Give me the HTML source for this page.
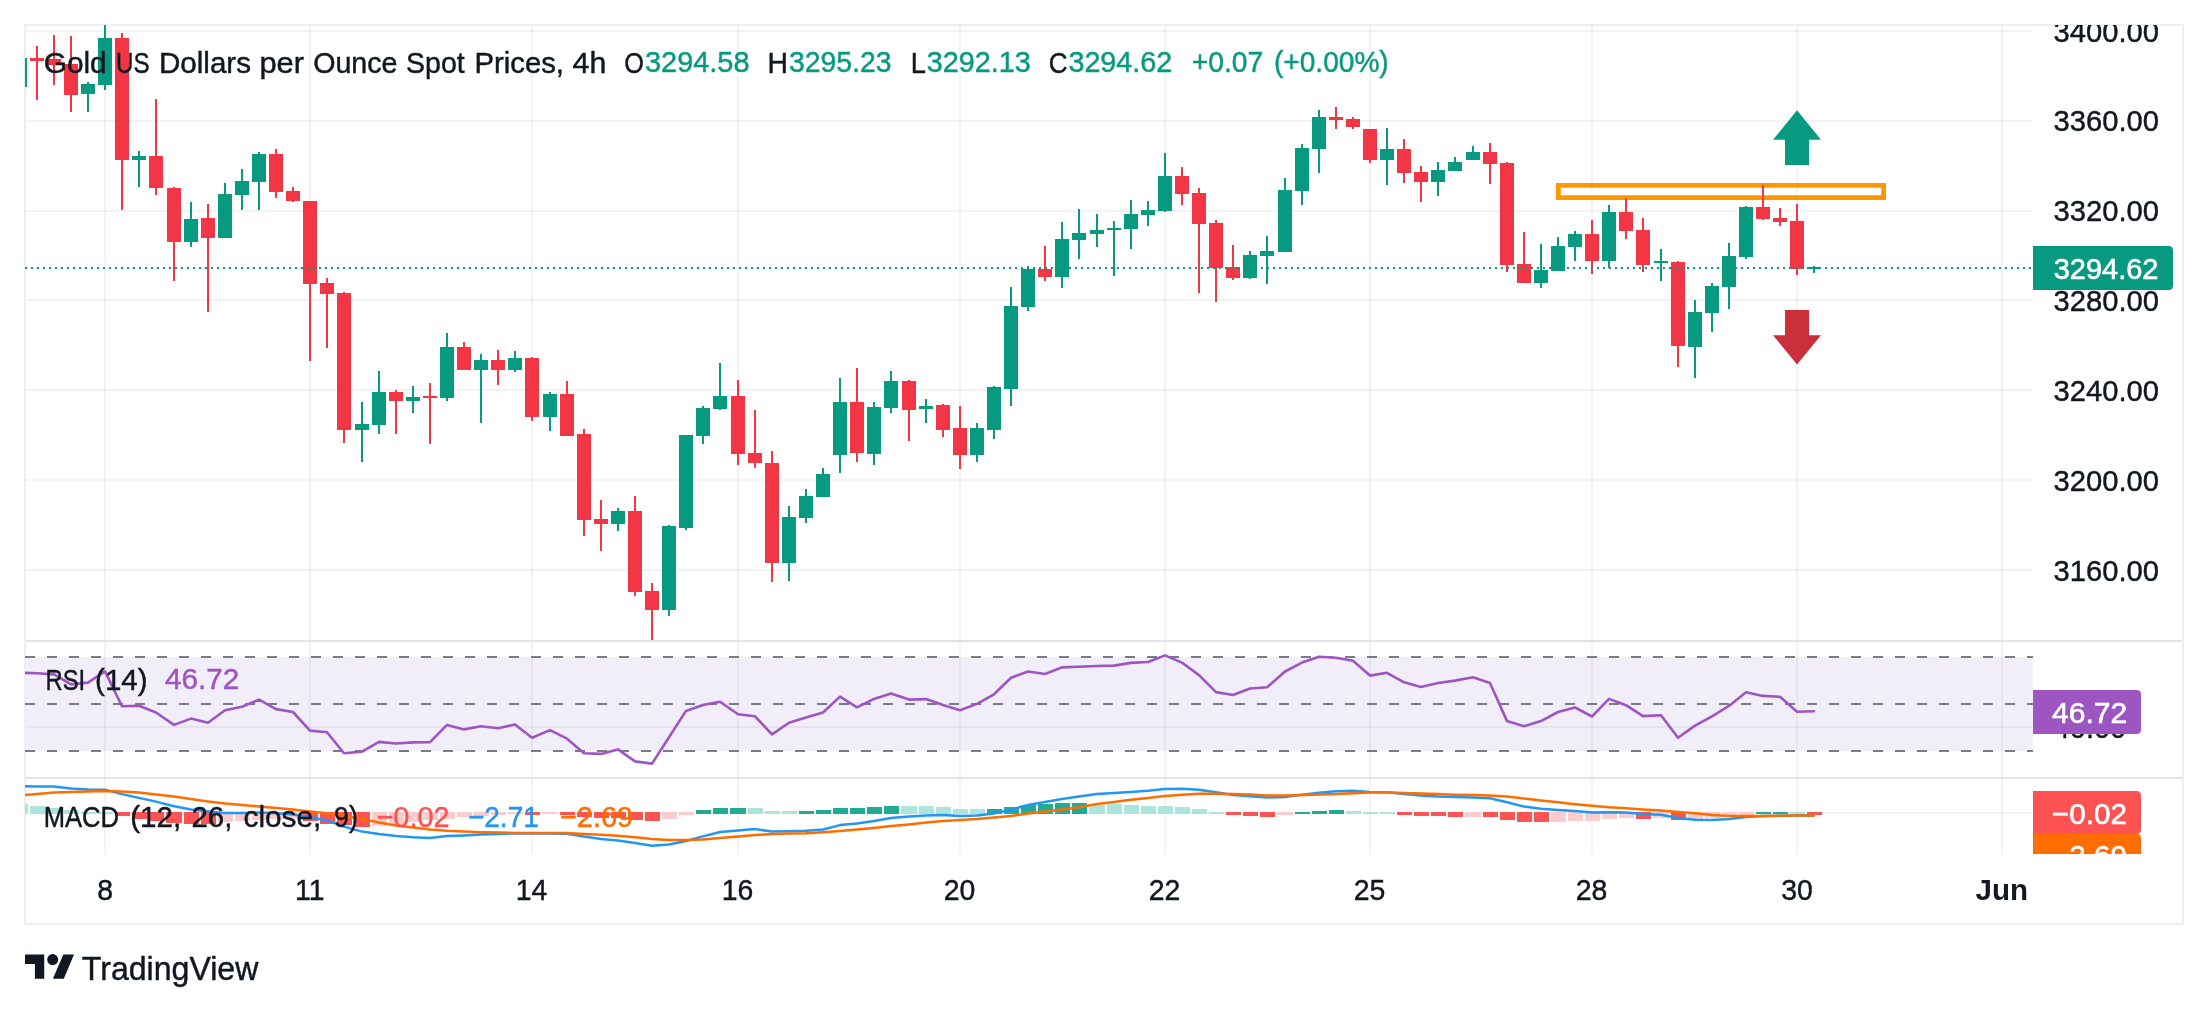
<!DOCTYPE html>
<html lang="en"><head><meta charset="utf-8"><title>Gold chart</title><style>html,body{margin:0;padding:0;background:#fff}body{width:2208px;height:1012px;overflow:hidden;font-family:"Liberation Sans",sans-serif}</style></head><body><svg width="2208" height="1012" viewBox="0 0 2208 1012" style="display:block;will-change:transform">
<defs>
<clipPath id="cpMain"><rect x="25" y="25" width="2008" height="615"/></clipPath>
<clipPath id="cpAxisMain"><rect x="2033" y="25" width="149" height="614"/></clipPath>
<clipPath id="cpRsi"><rect x="25" y="642" width="2008" height="135"/></clipPath>
<clipPath id="cpAxisRsi"><rect x="2033" y="642" width="149" height="135"/></clipPath>
<clipPath id="cpMacd"><rect x="25" y="779" width="2008" height="75"/></clipPath>
<clipPath id="cpAxisMacd"><rect x="2033" y="779" width="149" height="75"/></clipPath>
</defs>
<rect width="2208" height="1012" fill="#fff"/>
<g shape-rendering="crispEdges">
<rect x="26" y="657" width="2007" height="94" fill="#f2eef9"/>
<rect x="104" y="26" width="2" height="828" fill="#2a2e39" fill-opacity="0.06"/>
<rect x="309" y="26" width="2" height="828" fill="#2a2e39" fill-opacity="0.06"/>
<rect x="531" y="26" width="2" height="828" fill="#2a2e39" fill-opacity="0.06"/>
<rect x="737" y="26" width="2" height="828" fill="#2a2e39" fill-opacity="0.06"/>
<rect x="959" y="26" width="2" height="828" fill="#2a2e39" fill-opacity="0.06"/>
<rect x="1164" y="26" width="2" height="828" fill="#2a2e39" fill-opacity="0.06"/>
<rect x="1369" y="26" width="2" height="828" fill="#2a2e39" fill-opacity="0.06"/>
<rect x="1591" y="26" width="2" height="828" fill="#2a2e39" fill-opacity="0.06"/>
<rect x="1796" y="26" width="2" height="828" fill="#2a2e39" fill-opacity="0.06"/>
<rect x="2001" y="26" width="2" height="828" fill="#2a2e39" fill-opacity="0.06"/>
<rect x="26" y="30" width="2007" height="2" fill="#2a2e39" fill-opacity="0.06"/>
<rect x="26" y="120" width="2007" height="2" fill="#2a2e39" fill-opacity="0.06"/>
<rect x="26" y="210" width="2007" height="2" fill="#2a2e39" fill-opacity="0.06"/>
<rect x="26" y="299" width="2007" height="2" fill="#2a2e39" fill-opacity="0.06"/>
<rect x="26" y="389" width="2007" height="2" fill="#2a2e39" fill-opacity="0.06"/>
<rect x="26" y="479" width="2007" height="2" fill="#2a2e39" fill-opacity="0.06"/>
<rect x="26" y="569" width="2007" height="2" fill="#2a2e39" fill-opacity="0.06"/>
<rect x="26" y="726" width="2007" height="2" fill="#2a2e39" fill-opacity="0.06"/>
<rect x="26" y="812" width="2007" height="2" fill="#2a2e39" fill-opacity="0.06"/>
</g>
<g shape-rendering="crispEdges">
<rect x="26" y="640" width="2156" height="2" fill="#e0e3eb"/>
<rect x="26" y="777" width="2156" height="2" fill="#e0e3eb"/>
<path d="M24 24H2184V925H24Z M26 26V923H2182V26Z" fill="#edeef4" fill-rule="evenodd"/>
</g>
<g clip-path="url(#cpRsi)">
<line x1="25" y1="657" x2="2033" y2="657" stroke="#787b86" stroke-width="2" stroke-dasharray="10 12" shape-rendering="crispEdges"/>
<line x1="25" y1="704" x2="2033" y2="704" stroke="#787b86" stroke-width="2" stroke-dasharray="10 12" shape-rendering="crispEdges"/>
<line x1="25" y1="751" x2="2033" y2="751" stroke="#787b86" stroke-width="2" stroke-dasharray="10 12" shape-rendering="crispEdges"/>
<polyline points="20,672.8 37,673.2 54,674.4 71,684.4 88,682.6 105,671.4 122,706.3 139,705.7 156,712.5 174,724.9 191,718.6 208,722.7 225,710.2 242,706.8 259,699.6 276,709.1 293,712.0 310,730.6 327,732.2 344,753.2 362,751.6 379,741.9 396,743.5 413,742.4 430,742.1 447,724.9 464,729.4 481,726.3 498,728.3 515,724.4 532,737.8 550,730.1 567,738.7 584,753.2 601,753.9 618,749.4 635,761.4 652,763.6 669,737.3 686,710.9 703,705.0 720,701.8 738,714.3 755,716.3 772,734.4 789,722.7 806,717.4 823,712.5 840,696.6 857,707.3 874,698.9 891,693.4 909,699.6 926,699.1 943,705.0 960,710.2 977,703.9 994,694.3 1011,677.8 1028,671.5 1045,674.0 1062,667.4 1079,666.7 1097,666.0 1114,665.6 1131,662.9 1148,662.0 1165,655.4 1182,662.6 1199,675.1 1216,692.1 1233,695.0 1250,688.5 1267,687.3 1285,671.5 1302,662.6 1319,656.8 1336,657.7 1353,660.8 1370,675.6 1387,672.8 1404,682.3 1421,686.9 1438,683.0 1455,680.6 1473,677.3 1490,683.0 1507,721.1 1524,726.3 1541,721.1 1558,712.0 1575,707.5 1592,716.5 1609,698.9 1626,705.2 1643,716.1 1661,715.2 1678,737.8 1695,725.6 1712,716.3 1729,705.9 1746,692.3 1763,695.9 1780,696.8 1797,711.8 1814,711.3" fill="none" stroke="#9d55c2" stroke-width="2.6" stroke-linejoin="round" stroke-linecap="round"/>
</g>
<g clip-path="url(#cpMacd)">
<g shape-rendering="crispEdges">
<rect x="13" y="804" width="15" height="10" fill="#ace5dc"/>
<rect x="30" y="806" width="15" height="8" fill="#ace5dc"/>
<rect x="47" y="808" width="15" height="6" fill="#ace5dc"/>
<rect x="64" y="810" width="15" height="4" fill="#ace5dc"/>
<rect x="81" y="812" width="15" height="2" fill="#ace5dc"/>
<rect x="98" y="812" width="15" height="2" fill="#ace5dc"/>
<rect x="115" y="812" width="15" height="4" fill="#ff5252"/>
<rect x="132" y="812" width="15" height="7" fill="#ff5252"/>
<rect x="149" y="812" width="15" height="9" fill="#ff5252"/>
<rect x="166" y="812" width="16" height="11" fill="#ff5252"/>
<rect x="184" y="812" width="15" height="12" fill="#ff5252"/>
<rect x="201" y="812" width="15" height="12" fill="#ff5252"/>
<rect x="218" y="812" width="15" height="10" fill="#fccbcd"/>
<rect x="235" y="812" width="15" height="9" fill="#fccbcd"/>
<rect x="252" y="812" width="15" height="8" fill="#fccbcd"/>
<rect x="269" y="812" width="15" height="7" fill="#fccbcd"/>
<rect x="286" y="812" width="15" height="6" fill="#fccbcd"/>
<rect x="303" y="812" width="15" height="9" fill="#ff5252"/>
<rect x="320" y="812" width="15" height="12" fill="#ff5252"/>
<rect x="337" y="812" width="15" height="13" fill="#ff5252"/>
<rect x="354" y="812" width="16" height="15" fill="#ff5252"/>
<rect x="372" y="812" width="15" height="14" fill="#fccbcd"/>
<rect x="389" y="812" width="15" height="12" fill="#fccbcd"/>
<rect x="406" y="812" width="15" height="10" fill="#fccbcd"/>
<rect x="423" y="812" width="15" height="8" fill="#fccbcd"/>
<rect x="440" y="812" width="15" height="7" fill="#fccbcd"/>
<rect x="457" y="812" width="15" height="5" fill="#fccbcd"/>
<rect x="474" y="812" width="15" height="4" fill="#fccbcd"/>
<rect x="491" y="812" width="15" height="3" fill="#fccbcd"/>
<rect x="508" y="812" width="15" height="2" fill="#fccbcd"/>
<rect x="525" y="812" width="15" height="3" fill="#ff5252"/>
<rect x="542" y="812" width="16" height="2" fill="#fccbcd"/>
<rect x="560" y="812" width="15" height="3" fill="#ff5252"/>
<rect x="577" y="812" width="15" height="5" fill="#ff5252"/>
<rect x="594" y="812" width="15" height="6" fill="#ff5252"/>
<rect x="611" y="812" width="15" height="6" fill="#ff5252"/>
<rect x="628" y="812" width="15" height="8" fill="#ff5252"/>
<rect x="645" y="812" width="15" height="9" fill="#ff5252"/>
<rect x="662" y="812" width="15" height="7" fill="#fccbcd"/>
<rect x="679" y="812" width="15" height="3" fill="#fccbcd"/>
<rect x="696" y="810" width="15" height="4" fill="#22ab94"/>
<rect x="713" y="808" width="15" height="6" fill="#22ab94"/>
<rect x="730" y="808" width="16" height="6" fill="#22ab94"/>
<rect x="748" y="808" width="15" height="6" fill="#ace5dc"/>
<rect x="765" y="811" width="15" height="3" fill="#ace5dc"/>
<rect x="782" y="811" width="15" height="3" fill="#ace5dc"/>
<rect x="799" y="811" width="15" height="3" fill="#22ab94"/>
<rect x="816" y="810" width="15" height="4" fill="#22ab94"/>
<rect x="833" y="808" width="15" height="6" fill="#22ab94"/>
<rect x="850" y="808" width="15" height="6" fill="#22ab94"/>
<rect x="867" y="807" width="15" height="7" fill="#22ab94"/>
<rect x="884" y="806" width="15" height="8" fill="#22ab94"/>
<rect x="901" y="806" width="16" height="8" fill="#ace5dc"/>
<rect x="919" y="806" width="15" height="8" fill="#ace5dc"/>
<rect x="936" y="807" width="15" height="7" fill="#ace5dc"/>
<rect x="953" y="809" width="15" height="5" fill="#ace5dc"/>
<rect x="970" y="809" width="15" height="5" fill="#ace5dc"/>
<rect x="987" y="809" width="15" height="5" fill="#22ab94"/>
<rect x="1004" y="807" width="15" height="7" fill="#22ab94"/>
<rect x="1021" y="805" width="15" height="9" fill="#22ab94"/>
<rect x="1038" y="804" width="15" height="10" fill="#22ab94"/>
<rect x="1055" y="803" width="15" height="11" fill="#22ab94"/>
<rect x="1072" y="803" width="15" height="11" fill="#22ab94"/>
<rect x="1089" y="805" width="16" height="9" fill="#ace5dc"/>
<rect x="1107" y="804" width="15" height="10" fill="#ace5dc"/>
<rect x="1124" y="805" width="15" height="9" fill="#ace5dc"/>
<rect x="1141" y="806" width="15" height="8" fill="#ace5dc"/>
<rect x="1158" y="806" width="15" height="8" fill="#ace5dc"/>
<rect x="1175" y="807" width="15" height="7" fill="#ace5dc"/>
<rect x="1192" y="809" width="15" height="5" fill="#ace5dc"/>
<rect x="1209" y="812" width="15" height="2" fill="#ace5dc"/>
<rect x="1226" y="812" width="15" height="3" fill="#ff5252"/>
<rect x="1243" y="812" width="15" height="4" fill="#ff5252"/>
<rect x="1260" y="812" width="15" height="5" fill="#ff5252"/>
<rect x="1277" y="812" width="16" height="3" fill="#fccbcd"/>
<rect x="1295" y="812" width="15" height="2" fill="#22ab94"/>
<rect x="1312" y="811" width="15" height="3" fill="#22ab94"/>
<rect x="1329" y="810" width="15" height="4" fill="#22ab94"/>
<rect x="1346" y="811" width="15" height="3" fill="#ace5dc"/>
<rect x="1363" y="812" width="15" height="2" fill="#ace5dc"/>
<rect x="1380" y="812" width="15" height="2" fill="#ace5dc"/>
<rect x="1397" y="812" width="15" height="3" fill="#ff5252"/>
<rect x="1414" y="812" width="15" height="4" fill="#ff5252"/>
<rect x="1431" y="812" width="15" height="4" fill="#ff5252"/>
<rect x="1448" y="812" width="15" height="5" fill="#ff5252"/>
<rect x="1465" y="812" width="16" height="5" fill="#fccbcd"/>
<rect x="1483" y="812" width="15" height="5" fill="#ff5252"/>
<rect x="1500" y="812" width="15" height="8" fill="#ff5252"/>
<rect x="1517" y="812" width="15" height="10" fill="#ff5252"/>
<rect x="1534" y="812" width="15" height="10" fill="#ff5252"/>
<rect x="1551" y="812" width="15" height="10" fill="#fccbcd"/>
<rect x="1568" y="812" width="15" height="9" fill="#fccbcd"/>
<rect x="1585" y="812" width="15" height="9" fill="#fccbcd"/>
<rect x="1602" y="812" width="15" height="7" fill="#fccbcd"/>
<rect x="1619" y="812" width="15" height="6" fill="#fccbcd"/>
<rect x="1636" y="812" width="15" height="7" fill="#ff5252"/>
<rect x="1653" y="812" width="16" height="6" fill="#fccbcd"/>
<rect x="1671" y="812" width="15" height="8" fill="#ff5252"/>
<rect x="1688" y="812" width="15" height="7" fill="#fccbcd"/>
<rect x="1705" y="812" width="15" height="6" fill="#fccbcd"/>
<rect x="1722" y="812" width="15" height="4" fill="#fccbcd"/>
<rect x="1739" y="812" width="15" height="3" fill="#fccbcd"/>
<rect x="1756" y="812" width="15" height="2" fill="#22ab94"/>
<rect x="1773" y="812" width="15" height="2" fill="#22ab94"/>
<rect x="1790" y="812" width="15" height="2" fill="#ace5dc"/>
<rect x="1807" y="812" width="15" height="3" fill="#ff5252"/>
</g>
<polyline points="20,786.25 37,786.40 54,786.60 71,788.50 88,789.50 105,789.75 122,794.10 139,797.90 156,801.60 174,806.25 191,809.50 208,811.60 225,812.90 242,812.90 259,812.60 276,813.25 293,814.50 310,817.25 327,820.40 344,826.60 362,831.60 379,834.10 396,836.00 413,837.25 430,837.90 447,836.00 464,835.40 481,834.50 498,834.10 515,833.25 532,833.50 550,833.40 567,833.75 584,836.60 601,838.90 618,840.40 635,843.10 652,845.75 669,844.50 686,841.00 703,836.40 720,832.00 738,830.40 755,829.10 772,831.60 789,831.25 806,830.70 823,829.50 840,825.10 857,823.50 874,821.00 891,818.10 909,816.60 926,815.60 943,815.10 960,816.00 977,815.50 994,813.50 1011,809.75 1028,805.00 1045,802.00 1062,798.90 1079,796.60 1097,794.10 1114,792.90 1131,791.90 1148,790.75 1165,789.10 1182,788.75 1199,789.75 1216,792.25 1233,795.00 1250,796.25 1267,797.50 1285,797.00 1302,794.75 1319,792.70 1336,791.25 1353,790.75 1370,791.90 1387,792.25 1404,793.90 1421,795.40 1438,796.40 1455,797.00 1473,797.60 1490,798.25 1507,802.25 1524,806.60 1541,808.75 1558,810.00 1575,810.90 1592,812.55 1609,812.25 1626,812.50 1643,814.10 1661,814.75 1678,817.90 1695,819.75 1712,820.00 1729,818.90 1746,817.00 1763,816.00 1780,815.75 1797,815.50 1814,815.60" fill="none" stroke="#2196f3" stroke-width="2.5" stroke-linejoin="round" stroke-linecap="round"/>
<polyline points="20,795.40 37,793.90 54,792.60 71,791.90 88,791.40 105,791.00 122,791.60 139,792.60 156,794.40 174,796.60 191,799.10 208,801.40 225,803.50 242,805.00 259,806.40 276,807.90 293,809.50 310,811.40 327,813.25 344,816.00 362,819.10 379,822.50 396,825.40 413,827.50 430,829.40 447,830.75 464,831.60 481,832.25 498,832.60 515,832.90 532,832.90 550,833.00 567,833.10 584,833.90 601,834.75 618,835.75 635,837.25 652,838.90 669,840.10 686,840.10 703,839.50 720,838.10 738,836.60 755,835.00 772,834.10 789,833.50 806,833.20 823,832.25 840,831.00 857,829.50 874,827.90 891,826.00 909,824.40 926,822.60 943,821.00 960,820.00 977,819.10 994,817.60 1011,816.00 1028,813.50 1045,811.40 1062,809.40 1079,807.25 1097,804.10 1114,801.90 1131,799.75 1148,797.90 1165,796.00 1182,794.75 1199,793.75 1216,793.75 1233,793.90 1250,794.50 1267,795.40 1285,795.60 1302,795.10 1319,794.50 1336,794.10 1353,793.25 1370,792.60 1387,792.50 1404,792.90 1421,793.50 1438,794.10 1455,794.75 1473,795.10 1490,795.60 1507,796.60 1524,798.50 1541,800.40 1558,802.25 1575,804.20 1592,805.80 1609,807.25 1626,808.25 1643,809.40 1661,810.40 1678,811.90 1695,813.25 1712,815.00 1729,816.00 1746,816.00 1763,816.00 1780,815.75 1797,815.50 1814,815.60" fill="none" stroke="#ff6d00" stroke-width="2.5" stroke-linejoin="round" stroke-linecap="round"/>
</g>
<g clip-path="url(#cpMain)">
<path d="M1556 183H1886V200H1556Z M1560.8 187.8V195.2H1881.2V187.8Z" fill="#ff9800" fill-rule="evenodd"/>
<path d="M1797 110.2L1821 139.8H1809V165H1785V139.8H1773Z" fill="#089981"/>
<path d="M1785 310H1809V335.2H1821L1797 364.4L1773 335.2H1785Z" fill="#cc2f3c"/>
<g shape-rendering="crispEdges">
<rect x="19" y="58" width="2" height="29" fill="#089981"/>
<rect x="13" y="58" width="14" height="29" fill="#089981"/>
<rect x="36" y="46" width="2" height="54" fill="#f23645"/>
<rect x="30" y="58" width="14" height="3" fill="#f23645"/>
<rect x="53" y="35" width="2" height="50" fill="#f23645"/>
<rect x="47" y="59" width="14" height="6" fill="#f23645"/>
<rect x="70" y="36" width="2" height="76" fill="#f23645"/>
<rect x="64" y="64" width="14" height="31" fill="#f23645"/>
<rect x="87" y="82" width="2" height="30" fill="#089981"/>
<rect x="81" y="84" width="14" height="10" fill="#089981"/>
<rect x="104" y="25" width="2" height="65" fill="#089981"/>
<rect x="98" y="38" width="14" height="47" fill="#089981"/>
<rect x="121" y="33" width="2" height="177" fill="#f23645"/>
<rect x="115" y="38" width="14" height="122" fill="#f23645"/>
<rect x="138" y="151" width="2" height="36" fill="#089981"/>
<rect x="132" y="156" width="14" height="4" fill="#089981"/>
<rect x="155" y="99" width="2" height="96" fill="#f23645"/>
<rect x="149" y="156" width="14" height="32" fill="#f23645"/>
<rect x="173" y="187" width="2" height="94" fill="#f23645"/>
<rect x="167" y="188" width="14" height="54" fill="#f23645"/>
<rect x="190" y="202" width="2" height="45" fill="#089981"/>
<rect x="184" y="219" width="14" height="23" fill="#089981"/>
<rect x="207" y="204" width="2" height="108" fill="#f23645"/>
<rect x="201" y="218" width="14" height="20" fill="#f23645"/>
<rect x="224" y="183" width="2" height="55" fill="#089981"/>
<rect x="218" y="194" width="14" height="44" fill="#089981"/>
<rect x="241" y="169" width="2" height="41" fill="#089981"/>
<rect x="235" y="181" width="14" height="14" fill="#089981"/>
<rect x="258" y="152" width="2" height="58" fill="#089981"/>
<rect x="252" y="154" width="14" height="28" fill="#089981"/>
<rect x="275" y="149" width="2" height="49" fill="#f23645"/>
<rect x="269" y="154" width="14" height="38" fill="#f23645"/>
<rect x="292" y="187" width="2" height="15" fill="#f23645"/>
<rect x="286" y="191" width="14" height="10" fill="#f23645"/>
<rect x="309" y="201" width="2" height="160" fill="#f23645"/>
<rect x="303" y="201" width="14" height="83" fill="#f23645"/>
<rect x="326" y="278" width="2" height="70" fill="#f23645"/>
<rect x="320" y="283" width="14" height="11" fill="#f23645"/>
<rect x="343" y="292" width="2" height="151" fill="#f23645"/>
<rect x="337" y="293" width="14" height="137" fill="#f23645"/>
<rect x="361" y="402" width="2" height="60" fill="#089981"/>
<rect x="355" y="424" width="14" height="6" fill="#089981"/>
<rect x="378" y="371" width="2" height="63" fill="#089981"/>
<rect x="372" y="392" width="14" height="33" fill="#089981"/>
<rect x="395" y="390" width="2" height="44" fill="#f23645"/>
<rect x="389" y="392" width="14" height="9" fill="#f23645"/>
<rect x="412" y="386" width="2" height="27" fill="#089981"/>
<rect x="406" y="397" width="14" height="4" fill="#089981"/>
<rect x="429" y="383" width="2" height="61" fill="#f23645"/>
<rect x="423" y="396" width="14" height="2" fill="#f23645"/>
<rect x="446" y="333" width="2" height="68" fill="#089981"/>
<rect x="440" y="347" width="14" height="51" fill="#089981"/>
<rect x="463" y="342" width="2" height="28" fill="#f23645"/>
<rect x="457" y="347" width="14" height="23" fill="#f23645"/>
<rect x="480" y="354" width="2" height="69" fill="#089981"/>
<rect x="474" y="360" width="14" height="10" fill="#089981"/>
<rect x="497" y="350" width="2" height="35" fill="#f23645"/>
<rect x="491" y="360" width="14" height="10" fill="#f23645"/>
<rect x="514" y="351" width="2" height="21" fill="#089981"/>
<rect x="508" y="358" width="14" height="12" fill="#089981"/>
<rect x="531" y="357" width="2" height="64" fill="#f23645"/>
<rect x="525" y="358" width="14" height="59" fill="#f23645"/>
<rect x="549" y="392" width="2" height="39" fill="#089981"/>
<rect x="543" y="394" width="14" height="23" fill="#089981"/>
<rect x="566" y="381" width="2" height="55" fill="#f23645"/>
<rect x="560" y="394" width="14" height="42" fill="#f23645"/>
<rect x="583" y="429" width="2" height="107" fill="#f23645"/>
<rect x="577" y="434" width="14" height="86" fill="#f23645"/>
<rect x="600" y="500" width="2" height="51" fill="#f23645"/>
<rect x="594" y="519" width="14" height="5" fill="#f23645"/>
<rect x="617" y="508" width="2" height="23" fill="#089981"/>
<rect x="611" y="511" width="14" height="13" fill="#089981"/>
<rect x="634" y="496" width="2" height="100" fill="#f23645"/>
<rect x="628" y="511" width="14" height="81" fill="#f23645"/>
<rect x="651" y="583" width="2" height="57" fill="#f23645"/>
<rect x="645" y="591" width="14" height="19" fill="#f23645"/>
<rect x="668" y="525" width="2" height="91" fill="#089981"/>
<rect x="662" y="526" width="14" height="84" fill="#089981"/>
<rect x="685" y="435" width="2" height="95" fill="#089981"/>
<rect x="679" y="435" width="14" height="93" fill="#089981"/>
<rect x="702" y="406" width="2" height="38" fill="#089981"/>
<rect x="696" y="408" width="14" height="28" fill="#089981"/>
<rect x="719" y="363" width="2" height="47" fill="#089981"/>
<rect x="713" y="396" width="14" height="13" fill="#089981"/>
<rect x="737" y="380" width="2" height="85" fill="#f23645"/>
<rect x="731" y="396" width="14" height="58" fill="#f23645"/>
<rect x="754" y="410" width="2" height="58" fill="#f23645"/>
<rect x="748" y="453" width="14" height="10" fill="#f23645"/>
<rect x="771" y="451" width="2" height="131" fill="#f23645"/>
<rect x="765" y="463" width="14" height="100" fill="#f23645"/>
<rect x="788" y="506" width="2" height="75" fill="#089981"/>
<rect x="782" y="517" width="14" height="46" fill="#089981"/>
<rect x="805" y="489" width="2" height="34" fill="#089981"/>
<rect x="799" y="496" width="14" height="22" fill="#089981"/>
<rect x="822" y="468" width="2" height="29" fill="#089981"/>
<rect x="816" y="474" width="14" height="23" fill="#089981"/>
<rect x="839" y="378" width="2" height="95" fill="#089981"/>
<rect x="833" y="402" width="14" height="53" fill="#089981"/>
<rect x="856" y="368" width="2" height="94" fill="#f23645"/>
<rect x="850" y="402" width="14" height="51" fill="#f23645"/>
<rect x="873" y="402" width="2" height="63" fill="#089981"/>
<rect x="867" y="407" width="14" height="47" fill="#089981"/>
<rect x="890" y="371" width="2" height="42" fill="#089981"/>
<rect x="884" y="381" width="14" height="27" fill="#089981"/>
<rect x="908" y="380" width="2" height="61" fill="#f23645"/>
<rect x="902" y="381" width="14" height="29" fill="#f23645"/>
<rect x="925" y="399" width="2" height="24" fill="#089981"/>
<rect x="919" y="406" width="14" height="3" fill="#089981"/>
<rect x="942" y="404" width="2" height="33" fill="#f23645"/>
<rect x="936" y="405" width="14" height="25" fill="#f23645"/>
<rect x="959" y="406" width="2" height="63" fill="#f23645"/>
<rect x="953" y="428" width="14" height="27" fill="#f23645"/>
<rect x="976" y="423" width="2" height="39" fill="#089981"/>
<rect x="970" y="428" width="14" height="27" fill="#089981"/>
<rect x="993" y="386" width="2" height="53" fill="#089981"/>
<rect x="987" y="387" width="14" height="43" fill="#089981"/>
<rect x="1010" y="287" width="2" height="119" fill="#089981"/>
<rect x="1004" y="306" width="14" height="83" fill="#089981"/>
<rect x="1027" y="266" width="2" height="45" fill="#089981"/>
<rect x="1021" y="269" width="14" height="38" fill="#089981"/>
<rect x="1044" y="246" width="2" height="35" fill="#f23645"/>
<rect x="1038" y="269" width="14" height="8" fill="#f23645"/>
<rect x="1061" y="222" width="2" height="66" fill="#089981"/>
<rect x="1055" y="239" width="14" height="38" fill="#089981"/>
<rect x="1078" y="209" width="2" height="50" fill="#089981"/>
<rect x="1072" y="233" width="14" height="7" fill="#089981"/>
<rect x="1096" y="214" width="2" height="33" fill="#089981"/>
<rect x="1090" y="230" width="14" height="4" fill="#089981"/>
<rect x="1113" y="221" width="2" height="55" fill="#089981"/>
<rect x="1107" y="228" width="14" height="2" fill="#089981"/>
<rect x="1130" y="200" width="2" height="49" fill="#089981"/>
<rect x="1124" y="214" width="14" height="15" fill="#089981"/>
<rect x="1147" y="201" width="2" height="25" fill="#089981"/>
<rect x="1141" y="210" width="14" height="5" fill="#089981"/>
<rect x="1164" y="153" width="2" height="59" fill="#089981"/>
<rect x="1158" y="176" width="14" height="35" fill="#089981"/>
<rect x="1181" y="167" width="2" height="38" fill="#f23645"/>
<rect x="1175" y="176" width="14" height="18" fill="#f23645"/>
<rect x="1198" y="188" width="2" height="105" fill="#f23645"/>
<rect x="1192" y="193" width="14" height="31" fill="#f23645"/>
<rect x="1215" y="220" width="2" height="82" fill="#f23645"/>
<rect x="1209" y="223" width="14" height="45" fill="#f23645"/>
<rect x="1232" y="245" width="2" height="35" fill="#f23645"/>
<rect x="1226" y="267" width="14" height="11" fill="#f23645"/>
<rect x="1249" y="251" width="2" height="28" fill="#089981"/>
<rect x="1243" y="255" width="14" height="23" fill="#089981"/>
<rect x="1266" y="236" width="2" height="48" fill="#089981"/>
<rect x="1260" y="251" width="14" height="5" fill="#089981"/>
<rect x="1284" y="178" width="2" height="74" fill="#089981"/>
<rect x="1278" y="190" width="14" height="62" fill="#089981"/>
<rect x="1301" y="144" width="2" height="61" fill="#089981"/>
<rect x="1295" y="148" width="14" height="43" fill="#089981"/>
<rect x="1318" y="110" width="2" height="63" fill="#089981"/>
<rect x="1312" y="117" width="14" height="32" fill="#089981"/>
<rect x="1335" y="107" width="2" height="22" fill="#f23645"/>
<rect x="1329" y="117" width="14" height="3" fill="#f23645"/>
<rect x="1352" y="117" width="2" height="12" fill="#f23645"/>
<rect x="1346" y="119" width="14" height="8" fill="#f23645"/>
<rect x="1369" y="129" width="2" height="34" fill="#f23645"/>
<rect x="1363" y="129" width="14" height="31" fill="#f23645"/>
<rect x="1386" y="128" width="2" height="57" fill="#089981"/>
<rect x="1380" y="149" width="14" height="11" fill="#089981"/>
<rect x="1403" y="139" width="2" height="44" fill="#f23645"/>
<rect x="1397" y="149" width="14" height="24" fill="#f23645"/>
<rect x="1420" y="166" width="2" height="36" fill="#f23645"/>
<rect x="1414" y="172" width="14" height="10" fill="#f23645"/>
<rect x="1437" y="162" width="2" height="34" fill="#089981"/>
<rect x="1431" y="170" width="14" height="12" fill="#089981"/>
<rect x="1454" y="157" width="2" height="14" fill="#089981"/>
<rect x="1448" y="162" width="14" height="9" fill="#089981"/>
<rect x="1472" y="146" width="2" height="14" fill="#089981"/>
<rect x="1466" y="152" width="14" height="8" fill="#089981"/>
<rect x="1489" y="143" width="2" height="41" fill="#f23645"/>
<rect x="1483" y="152" width="14" height="12" fill="#f23645"/>
<rect x="1506" y="162" width="2" height="110" fill="#f23645"/>
<rect x="1500" y="163" width="14" height="102" fill="#f23645"/>
<rect x="1523" y="232" width="2" height="51" fill="#f23645"/>
<rect x="1517" y="264" width="14" height="19" fill="#f23645"/>
<rect x="1540" y="244" width="2" height="44" fill="#089981"/>
<rect x="1534" y="270" width="14" height="13" fill="#089981"/>
<rect x="1557" y="237" width="2" height="34" fill="#089981"/>
<rect x="1551" y="246" width="14" height="25" fill="#089981"/>
<rect x="1574" y="231" width="2" height="30" fill="#089981"/>
<rect x="1568" y="234" width="14" height="13" fill="#089981"/>
<rect x="1591" y="220" width="2" height="54" fill="#f23645"/>
<rect x="1585" y="234" width="14" height="27" fill="#f23645"/>
<rect x="1608" y="205" width="2" height="63" fill="#089981"/>
<rect x="1602" y="212" width="14" height="49" fill="#089981"/>
<rect x="1625" y="198" width="2" height="41" fill="#f23645"/>
<rect x="1619" y="212" width="14" height="19" fill="#f23645"/>
<rect x="1642" y="218" width="2" height="54" fill="#f23645"/>
<rect x="1636" y="230" width="14" height="35" fill="#f23645"/>
<rect x="1660" y="249" width="2" height="32" fill="#089981"/>
<rect x="1654" y="261" width="14" height="2" fill="#089981"/>
<rect x="1677" y="261" width="2" height="106" fill="#f23645"/>
<rect x="1671" y="262" width="14" height="84" fill="#f23645"/>
<rect x="1694" y="300" width="2" height="78" fill="#089981"/>
<rect x="1688" y="312" width="14" height="35" fill="#089981"/>
<rect x="1711" y="283" width="2" height="49" fill="#089981"/>
<rect x="1705" y="286" width="14" height="27" fill="#089981"/>
<rect x="1728" y="243" width="2" height="66" fill="#089981"/>
<rect x="1722" y="256" width="14" height="31" fill="#089981"/>
<rect x="1745" y="206" width="2" height="53" fill="#089981"/>
<rect x="1739" y="207" width="14" height="50" fill="#089981"/>
<rect x="1762" y="185" width="2" height="35" fill="#f23645"/>
<rect x="1756" y="207" width="14" height="12" fill="#f23645"/>
<rect x="1779" y="208" width="2" height="18" fill="#f23645"/>
<rect x="1773" y="218" width="14" height="4" fill="#f23645"/>
<rect x="1796" y="204" width="2" height="71" fill="#f23645"/>
<rect x="1790" y="221" width="14" height="48" fill="#f23645"/>
<rect x="1813" y="266" width="2" height="7" fill="#089981"/>
<rect x="1807" y="267" width="14" height="2" fill="#089981"/>
</g>
<line x1="25" y1="268" x2="2033" y2="268" stroke="#089981" stroke-width="2" stroke-dasharray="2 4" shape-rendering="crispEdges"/>
</g>
<g clip-path="url(#cpAxisMain)"><text transform="translate(2053.62 41.65) scale(0.9848 1)" font-family="Liberation Sans, sans-serif" font-size="29.6" font-weight="400" fill="#131722" stroke="#131722" stroke-width="0.45">3400.00</text></g>
<g clip-path="url(#cpAxisMain)"><text transform="translate(2053.62 131.48) scale(0.9848 1)" font-family="Liberation Sans, sans-serif" font-size="29.6" font-weight="400" fill="#131722" stroke="#131722" stroke-width="0.45">3360.00</text></g>
<g clip-path="url(#cpAxisMain)"><text transform="translate(2053.62 221.31) scale(0.9848 1)" font-family="Liberation Sans, sans-serif" font-size="29.6" font-weight="400" fill="#131722" stroke="#131722" stroke-width="0.45">3320.00</text></g>
<g clip-path="url(#cpAxisMain)"><text transform="translate(2053.62 311.14) scale(0.9848 1)" font-family="Liberation Sans, sans-serif" font-size="29.6" font-weight="400" fill="#131722" stroke="#131722" stroke-width="0.45">3280.00</text></g>
<g clip-path="url(#cpAxisMain)"><text transform="translate(2053.62 400.97) scale(0.9848 1)" font-family="Liberation Sans, sans-serif" font-size="29.6" font-weight="400" fill="#131722" stroke="#131722" stroke-width="0.45">3240.00</text></g>
<g clip-path="url(#cpAxisMain)"><text transform="translate(2053.62 490.80) scale(0.9848 1)" font-family="Liberation Sans, sans-serif" font-size="29.6" font-weight="400" fill="#131722" stroke="#131722" stroke-width="0.45">3200.00</text></g>
<g clip-path="url(#cpAxisMain)"><text transform="translate(2053.62 580.63) scale(0.9848 1)" font-family="Liberation Sans, sans-serif" font-size="29.6" font-weight="400" fill="#131722" stroke="#131722" stroke-width="0.45">3160.00</text></g>
<g clip-path="url(#cpAxisRsi)"><text transform="translate(2053.62 738.30) scale(0.9806 1)" font-family="Liberation Sans, sans-serif" font-size="29.6" font-weight="400" fill="#131722" stroke="#131722" stroke-width="0.45">40.00</text></g>
<text transform="translate(97.32 899.90) scale(0.9600 1)" font-family="Liberation Sans, sans-serif" font-size="29.6" font-weight="400" fill="#131722" stroke="#131722" stroke-width="0.45">8</text>
<text transform="translate(295.12 899.90) scale(0.9600 1)" font-family="Liberation Sans, sans-serif" font-size="29.6" font-weight="400" fill="#131722" stroke="#131722" stroke-width="0.45">11</text>
<text transform="translate(515.68 899.90) scale(0.9600 1)" font-family="Liberation Sans, sans-serif" font-size="29.6" font-weight="400" fill="#131722" stroke="#131722" stroke-width="0.45">14</text>
<text transform="translate(721.68 899.90) scale(0.9600 1)" font-family="Liberation Sans, sans-serif" font-size="29.6" font-weight="400" fill="#131722" stroke="#131722" stroke-width="0.45">16</text>
<text transform="translate(943.68 899.90) scale(0.9600 1)" font-family="Liberation Sans, sans-serif" font-size="29.6" font-weight="400" fill="#131722" stroke="#131722" stroke-width="0.45">20</text>
<text transform="translate(1148.68 899.90) scale(0.9600 1)" font-family="Liberation Sans, sans-serif" font-size="29.6" font-weight="400" fill="#131722" stroke="#131722" stroke-width="0.45">22</text>
<text transform="translate(1353.68 899.90) scale(0.9600 1)" font-family="Liberation Sans, sans-serif" font-size="29.6" font-weight="400" fill="#131722" stroke="#131722" stroke-width="0.45">25</text>
<text transform="translate(1575.68 899.90) scale(0.9600 1)" font-family="Liberation Sans, sans-serif" font-size="29.6" font-weight="400" fill="#131722" stroke="#131722" stroke-width="0.45">28</text>
<text transform="translate(1781.16 899.90) scale(0.9600 1)" font-family="Liberation Sans, sans-serif" font-size="29.6" font-weight="400" fill="#131722" stroke="#131722" stroke-width="0.45">30</text>
<text transform="translate(1975.50 900.30) scale(0.9980 1)" font-family="Liberation Sans, sans-serif" font-size="29.6" font-weight="700" fill="#131722" stroke="#131722" stroke-width="0">Jun</text>
<text transform="translate(43.68 72.85) scale(1.0085 1)" font-family="Liberation Sans, sans-serif" font-size="29.6" font-weight="400" fill="#131722" stroke="#131722" stroke-width="0.45">Gold</text>
<text transform="translate(116.07 72.85) scale(0.8158 1)" font-family="Liberation Sans, sans-serif" font-size="29.6" font-weight="400" fill="#131722" stroke="#131722" stroke-width="0.45">US</text>
<text transform="translate(158.90 72.85) scale(1.0000 1)" font-family="Liberation Sans, sans-serif" font-size="29.6" font-weight="400" fill="#131722" stroke="#131722" stroke-width="0.45">Dollars</text>
<text transform="translate(259.42 72.85) scale(1.0425 1)" font-family="Liberation Sans, sans-serif" font-size="29.6" font-weight="400" fill="#131722" stroke="#131722" stroke-width="0.45">per</text>
<text transform="translate(313.13 72.85) scale(0.9682 1)" font-family="Liberation Sans, sans-serif" font-size="29.6" font-weight="400" fill="#131722" stroke="#131722" stroke-width="0.45">Ounce</text>
<text transform="translate(406.07 72.85) scale(0.9627 1)" font-family="Liberation Sans, sans-serif" font-size="29.6" font-weight="400" fill="#131722" stroke="#131722" stroke-width="0.45">Spot</text>
<text transform="translate(474.52 72.85) scale(0.9895 1)" font-family="Liberation Sans, sans-serif" font-size="29.6" font-weight="400" fill="#131722" stroke="#131722" stroke-width="0.45">Prices,</text>
<text transform="translate(572.58 72.85) scale(1.0233 1)" font-family="Liberation Sans, sans-serif" font-size="29.6" font-weight="400" fill="#131722" stroke="#131722" stroke-width="0.45">4h</text>
<text transform="translate(624.35 72.70) scale(0.8524 1)" font-family="Liberation Sans, sans-serif" font-size="29.6" font-weight="400" fill="#131722" stroke="#131722" stroke-width="0.45">O</text>
<text transform="translate(645.02 72.30) scale(0.9771 1)" font-family="Liberation Sans, sans-serif" font-size="29.6" font-weight="400" fill="#089981" stroke="#089981" stroke-width="0.45">3294.58</text>
<text transform="translate(767.58 72.70) scale(0.9588 1)" font-family="Liberation Sans, sans-serif" font-size="29.6" font-weight="400" fill="#131722" stroke="#131722" stroke-width="0.45">H</text>
<text transform="translate(788.94 72.30) scale(0.9590 1)" font-family="Liberation Sans, sans-serif" font-size="29.6" font-weight="400" fill="#089981" stroke="#089981" stroke-width="0.45">3295.23</text>
<text transform="translate(910.66 72.70) scale(0.9214 1)" font-family="Liberation Sans, sans-serif" font-size="29.6" font-weight="400" fill="#131722" stroke="#131722" stroke-width="0.45">L</text>
<text transform="translate(926.63 72.30) scale(0.9733 1)" font-family="Liberation Sans, sans-serif" font-size="29.6" font-weight="400" fill="#089981" stroke="#089981" stroke-width="0.45">3292.13</text>
<text transform="translate(1048.84 72.70) scale(0.8778 1)" font-family="Liberation Sans, sans-serif" font-size="29.6" font-weight="400" fill="#131722" stroke="#131722" stroke-width="0.45">C</text>
<text transform="translate(1068.43 72.30) scale(0.9705 1)" font-family="Liberation Sans, sans-serif" font-size="29.6" font-weight="400" fill="#089981" stroke="#089981" stroke-width="0.45">3294.62</text>
<text transform="translate(1191.85 72.30) scale(0.9521 1)" font-family="Liberation Sans, sans-serif" font-size="29.6" font-weight="400" fill="#089981" stroke="#089981" stroke-width="0.45">+0.07</text>
<text transform="translate(1274.00 72.30) scale(0.9487 1)" font-family="Liberation Sans, sans-serif" font-size="29.6" font-weight="400" fill="#089981" stroke="#089981" stroke-width="0.45">(+0.00%)</text>
<text transform="translate(45.49 689.85) scale(0.8044 1)" font-family="Liberation Sans, sans-serif" font-size="29.6" font-weight="400" fill="#131722" stroke="#131722" stroke-width="0.45">RSI</text>
<text transform="translate(95.10 689.85) scale(0.9980 1)" font-family="Liberation Sans, sans-serif" font-size="29.6" font-weight="400" fill="#131722" stroke="#131722" stroke-width="0.45">(14)</text>
<text transform="translate(165.00 689.30) scale(1.0042 1)" font-family="Liberation Sans, sans-serif" font-size="29.6" font-weight="400" fill="#9d55c2" stroke="#9d55c2" stroke-width="0.45">46.72</text>
<text transform="translate(43.67 827.20) scale(0.8643 1)" font-family="Liberation Sans, sans-serif" font-size="29.6" font-weight="400" fill="#131722" stroke="#131722" stroke-width="0.45">MACD</text>
<text transform="translate(130.20 827.20) scale(1.0022 1)" font-family="Liberation Sans, sans-serif" font-size="29.6" font-weight="400" fill="#131722" stroke="#131722" stroke-width="0.45">(12,</text>
<text transform="translate(191.41 827.20) scale(0.9946 1)" font-family="Liberation Sans, sans-serif" font-size="29.6" font-weight="400" fill="#131722" stroke="#131722" stroke-width="0.45">26,</text>
<text transform="translate(243.49 827.20) scale(1.0068 1)" font-family="Liberation Sans, sans-serif" font-size="29.6" font-weight="400" fill="#131722" stroke="#131722" stroke-width="0.45">close,</text>
<text transform="translate(334.10 827.20) scale(0.9042 1)" font-family="Liberation Sans, sans-serif" font-size="29.6" font-weight="400" fill="#131722" stroke="#131722" stroke-width="0.45">9)</text>
<text transform="translate(376.44 826.70) scale(0.9778 1)" font-family="Liberation Sans, sans-serif" font-size="29.6" font-weight="400" fill="#ff5252" stroke="#ff5252" stroke-width="0.45">−0.02</text>
<text transform="translate(467.91 826.70) scale(0.9472 1)" font-family="Liberation Sans, sans-serif" font-size="29.6" font-weight="400" fill="#2196f3" stroke="#2196f3" stroke-width="0.45">−2.71</text>
<text transform="translate(559.94 826.70) scale(0.9778 1)" font-family="Liberation Sans, sans-serif" font-size="29.6" font-weight="400" fill="#ff6d00" stroke="#ff6d00" stroke-width="0.45">−2.69</text>
<text transform="translate(81.84 979.70) scale(0.9637 1)" font-family="Liberation Sans, sans-serif" font-size="33.3" font-weight="400" fill="#131722" stroke="#131722" stroke-width="0.45">TradingView</text>
<path d="M2033 246H2168.5Q2173 246 2173 250.5V285.5Q2173 290 2168.5 290H2033Z" fill="#089981"/>
<path d="M2033 690H2136.5Q2141 690 2141 694.5V729.5Q2141 734 2136.5 734H2033Z" fill="#9d55c2"/>
<path clip-path="url(#cpAxisMacd)" d="M2033 791H2136.5Q2141 791 2141 795.5V829.5Q2141 834 2136.5 834H2033Z" fill="#ff5252"/>
<path clip-path="url(#cpAxisMacd)" d="M2033 834H2136.5Q2141 834 2141 838.5V873.5Q2141 878 2136.5 878H2033Z" fill="#ff6d00"/>
<text transform="translate(2053.63 278.80) scale(0.9670 1)" font-family="Liberation Sans, sans-serif" font-size="30" font-weight="400" fill="#fff" stroke="#fff" stroke-width="0.6">3294.62</text>
<text transform="translate(2052.10 722.50) scale(1.0014 1)" font-family="Liberation Sans, sans-serif" font-size="30" font-weight="400" fill="#fff" stroke="#fff" stroke-width="0.6">46.72</text>
<g clip-path="url(#cpAxisMacd)"><text transform="translate(2051.82 823.50) scale(0.9890 1)" font-family="Liberation Sans, sans-serif" font-size="30" font-weight="400" fill="#fff" stroke="#fff" stroke-width="0.6">−0.02</text></g>
<g clip-path="url(#cpAxisMacd)"><text transform="translate(2051.82 866.20) scale(0.9890 1)" font-family="Liberation Sans, sans-serif" font-size="30" font-weight="400" fill="#fff" stroke="#fff" stroke-width="0.6">−2.69</text></g>
<g fill="#131722">
<path d="M25 954.4H44.2V978.7H34.9V963.9H25Z"/>
<circle cx="52.7" cy="959.55" r="5.5"/>
<path d="M63.35 954.4H74L63.8 978.7H52.9Z"/>
</g>
</svg></body></html>
